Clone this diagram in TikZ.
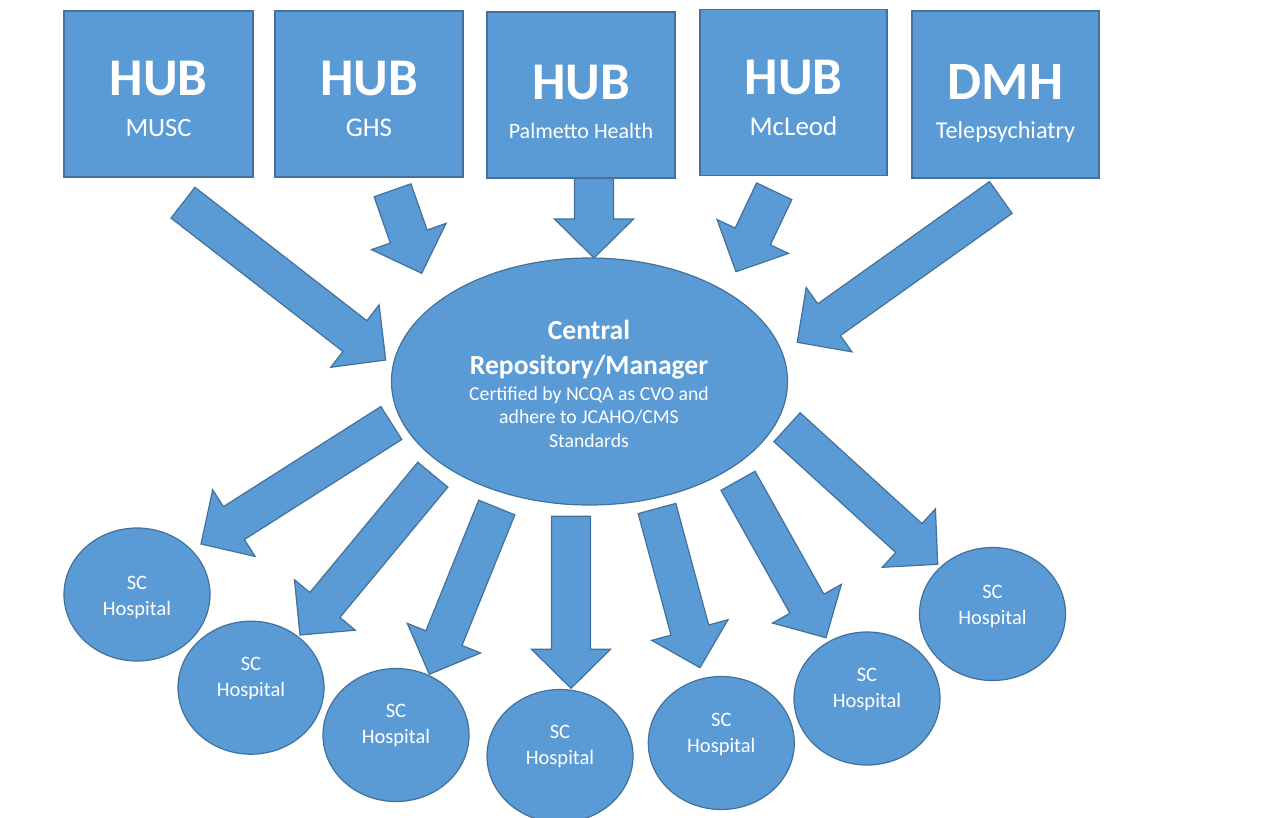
\documentclass[tikz,border=0pt]{standalone}
\usepackage{fontspec}
\setmainfont{Carlito}
\usetikzlibrary{calc,shapes.geometric}
\definecolor{shapefill}{HTML}{5B9BD5}
\definecolor{shapeline}{HTML}{41719C}

% block arrow from tail coordinate #1 to tip coordinate #2
\newcommand\blockarrow[2]{%
  \coordinate (neck) at ($(#2)!39pt!(#1)$);
  \filldraw[barrow] ($(#1)!19.5pt!90:(#2)$) -- ($(neck)!19.5pt!90:(#2)$)
    -- ($(neck)!39.5pt!90:(#2)$) -- (#2) -- ($(neck)!39.5pt!-90:(#2)$)
    -- ($(neck)!19.5pt!-90:(#2)$) -- ($(#1)!19.5pt!-90:(#2)$) -- cycle;}

% hospital circle: name, x, y, baseline offset of the first line
\newcommand\hospital[4]{%
  \node[hosp] (#1) at (#2,#3) {};
  \node[htext] (#1sc) at ($(#1.center)+(0,#4)$) {SC};
  \node[htext] (#1nm) at ($(#1.center)+(0,#4+26)$) {Hospital};}

\begin{document}
\begin{tikzpicture}[x=1pt,y=-1pt,
  hub/.style={draw=shapeline, fill=shapefill, line width=1.2pt, inner sep=0pt,
    outer sep=0pt, minimum height=166pt, minimum width=188pt},
  title/.style={text=white, anchor=base, inner sep=0pt,
    font=\fontsize{53}{60}\selectfont\bfseries},
  sub/.style={text=white, anchor=base, inner sep=0pt},
  centre/.style={ellipse, draw=shapeline, fill=shapefill, line width=1.2pt,
    inner sep=0pt, outer sep=0pt, minimum width=396pt, minimum height=247pt},
  ctitle/.style={text=white, anchor=base, inner sep=0pt,
    font=\fontsize{27.6}{31}\selectfont\bfseries},
  ctext/.style={text=white, anchor=base, inner sep=0pt,
    font=\fontsize{19.7}{23}\selectfont},
  hosp/.style={ellipse, draw=shapeline, fill=shapefill, line width=1.2pt,
    inner sep=0pt, outer sep=0pt, minimum width=146pt, minimum height=133pt},
  htext/.style={text=white, anchor=base, inner sep=0pt,
    font=\fontsize{20.5}{24}\selectfont},
  barrow/.style={draw=shapeline, fill=shapefill, line width=1.2pt, line join=miter}]

\fill[white] (0,0) rectangle (1276,817);
\useasboundingbox (0,0) rectangle (1276,817);

% source boxes
\node[hub, minimum width=189pt] (musc) at (158.5,94) {};
\node[hub] (ghs) at (369,94) {};
\node[hub] (palm) at (581,95) {};
\node[hub, minimum width=187pt] (mcl) at (793.5,92.5) {};
\node[hub, minimum width=187pt, minimum height=167pt] (dmh) at (1005.5,94.5) {};

\node[title] (muscT) at (158.5,95) {HUB};
\node[sub, font=\fontsize{26.5}{30}\selectfont] (muscS) at (158.5,136.5) {MUSC};
\node[title] (ghsT) at (369,95) {HUB};
\node[sub, font=\fontsize{27}{30}\selectfont] (ghsS) at (369,136.5) {GHS};
\node[title] (palmT) at (581,99) {HUB};
\node[sub, font=\fontsize{22}{25}\selectfont] (palmS) at (581,138) {Palmetto Health};
\node[title] (mclT) at (793.5,94) {HUB};
\node[sub, font=\fontsize{27}{30}\selectfont] (mclS) at (793.5,135.5) {McLeod};
\node[title, font=\fontsize{54}{60}\selectfont\bfseries] (dmhT) at (1005.5,99) {DMH};
\node[sub, font=\fontsize{24.2}{27}\selectfont] (dmhS) at (1005.5,138) {Telepsychiatry};

% central repository
\node[centre] (repo) at (589.5,381.5) {};
\node[ctitle] (repoA) at (589,339) {Central};
\node[ctitle] (repoB) at (589,374) {Repository/Manager};
\node[ctext] (repoC) at (589,400) {Certified by NCQA as CVO and};
\node[ctext] (repoD) at (589,423.5) {adhere to JCAHO/CMS};
\node[ctext] (repoE) at (589,447) {Standards};

% hospitals
\hospital{h1}{137}{594.5}{-5.5}
\hospital{h2}{251}{687.7}{-17}
\hospital{h3}{396}{735}{-18}
\hospital{h4}{560}{756}{-18}
\hospital{h5}{721.3}{743}{-17}
\hospital{h6}{867}{698.5}{-17}
\hospital{h7}{992.5}{614}{-16}

% arrow end points
\coordinate (u1s) at (183,202.7);   \coordinate (u1e) at (385.7,360);
\coordinate (u2s) at (392.5,190.3); \coordinate (u2e) at (421.7,273.3);
\coordinate (u3s) at (594,178.5);   \coordinate (u3e) at (594,258);
\coordinate (u4s) at (774.2,191.3); \coordinate (u4e) at (736,271.7);
\coordinate (u5s) at (1000.8,197.5);\coordinate (u5e) at (797.3,342.3);

\coordinate (d1s) at (391.3,423);   \coordinate (d1e) at (201,544);
\coordinate (d2s) at (432.8,474.7); \coordinate (d2e) at (300,635);
\coordinate (d3s) at (496.8,507.5); \coordinate (d3e) at (429.3,674.3);
\coordinate (d4s) at (571,516.3);   \coordinate (d4e) at (571,688.3);
\coordinate (d5s) at (657,508.5);   \coordinate (d5e) at (700,667.7);
\coordinate (d6s) at (738,480.8);   \coordinate (d6e) at (826,637.7);
\coordinate (d7s) at (787,427.2);   \coordinate (d7e) at (937.7,564.3);

% arrows into the repository
\blockarrow{u1s}{u1e}
\blockarrow{u2s}{u2e}
\blockarrow{u3s}{u3e}
\blockarrow{u4s}{u4e}
\blockarrow{u5s}{u5e}

% arrows out to the hospitals
\blockarrow{d1s}{d1e}
\blockarrow{d2s}{d2e}
\blockarrow{d3s}{d3e}
\blockarrow{d4s}{d4e}
\blockarrow{d5s}{d5e}
\blockarrow{d6s}{d6e}
\blockarrow{d7s}{d7e}
\end{tikzpicture}
\end{document}
